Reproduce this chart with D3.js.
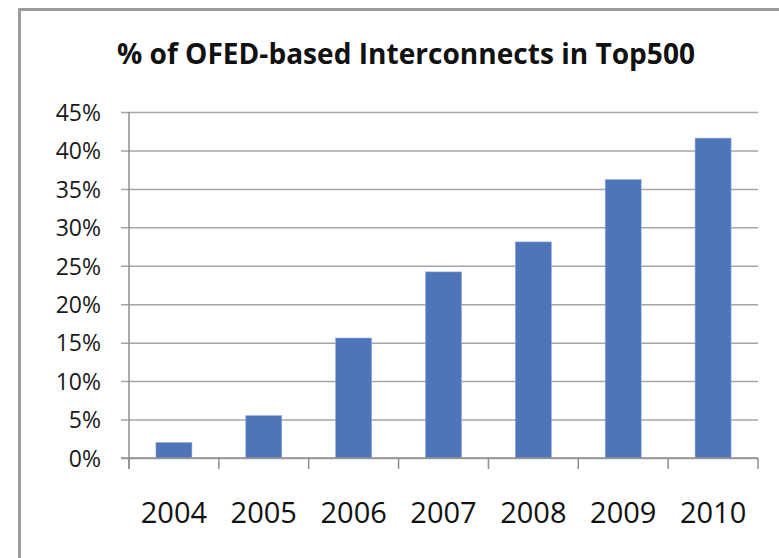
<!DOCTYPE html>
<html>
<head>
<meta charset="utf-8">
<script src="https://cdn.jsdelivr.net/npm/d3@7"></script>
<style>
  html, body { margin: 0; padding: 0; background: #fff; }
  svg { display: block; }
</style>
</head>
<body>
<svg id="chart" width="779" height="558"></svg>
<script>
// ---- Data ----
const titleText = "% of OFED-based Interconnects in Top500";
const years = ["2004", "2005", "2006", "2007", "2008", "2009", "2010"];
const shares = [0.020, 0.055, 0.156, 0.242, 0.281, 0.362, 0.416];
const yTicks = [0, 0.05, 0.10, 0.15, 0.20, 0.25, 0.30, 0.35, 0.40, 0.45];

// ---- Layout ----
const svg = d3.select("#chart");
const plotL = 129, plotR = 758, plotT = 112, plotB = 458;
const font = "'Open Sans', 'Liberation Sans', sans-serif";

// outer chart border
svg.append("rect")
  .attr("x", 19.5).attr("y", 9.5)
  .attr("width", 900).attr("height", 700)
  .attr("fill", "none")
  .attr("stroke", "#9c9c9c")
  .attr("stroke-width", 3);

const x = d3.scaleBand().domain(years).range([plotL, plotR])
  .paddingInner(0.6).paddingOuter(0.3);
const y = d3.scaleLinear().domain([0, 0.45]).range([plotB, plotT]);

// gridlines + y ticks via axis
const yAxis = d3.axisLeft(y).tickValues(yTicks)
  .tickSize(-(plotR - plotL)).tickFormat(d => Math.round(d * 100) + "%").tickPadding(28);
const gy = svg.append("g").attr("transform", `translate(${plotL},0)`).call(yAxis);
gy.select(".domain").remove();
gy.selectAll(".tick line")
  .attr("x1", -8)
  .attr("stroke", "#a6a6a6").attr("stroke-width", 1.5);
gy.selectAll(".tick text")
  .attr("font-family", font).attr("font-size", 23)
  .attr("fill", "#1a1a1a").attr("dy", "0.36em");

// y axis line
svg.append("line")
  .attr("x1", plotL).attr("x2", plotL)
  .attr("y1", plotT).attr("y2", plotB + 11)
  .attr("stroke", "#8f8f8f").attr("stroke-width", 1.5);

// bars
svg.append("g").selectAll("rect").data(years).join("rect")
  .attr("x", d => x(d))
  .attr("width", x.bandwidth())
  .attr("y", (d, i) => y(shares[i]))
  .attr("height", (d, i) => y(0) - y(shares[i]))
  .attr("fill", "#4e74ba")
  .attr("stroke", "#8aa5d6").attr("stroke-width", 0.6);

// x axis line + category ticks
svg.append("line")
  .attr("x1", plotL - 8).attr("x2", plotR)
  .attr("y1", plotB).attr("y2", plotB)
  .attr("stroke", "#8f8f8f").attr("stroke-width", 1.5);
const step = x.step();
const bounds = d3.range(years.length + 1).map(i => plotL + i * step);
svg.append("g").selectAll("line").data(bounds).join("line")
  .attr("x1", d => d).attr("x2", d => d)
  .attr("y1", plotB).attr("y2", plotB + 11)
  .attr("stroke", "#8f8f8f").attr("stroke-width", 1.5);

// category labels
svg.append("g").selectAll("text").data(years).join("text")
  .attr("x", d => x(d) + x.bandwidth() / 2)
  .attr("y", 523)
  .attr("text-anchor", "middle")
  .attr("font-family", font).attr("font-size", 29)
  .attr("fill", "#111")
  .text(d => d);

// title
svg.append("text")
  .attr("x", 406).attr("y", 63.5)
  .attr("text-anchor", "middle")
  .attr("font-family", font).attr("font-weight", "bold")
  .attr("font-size", 29)
  .attr("textLength", 578).attr("lengthAdjust", "spacingAndGlyphs")
  .attr("fill", "#111")
  .text(titleText);
</script>
</body>
</html>
